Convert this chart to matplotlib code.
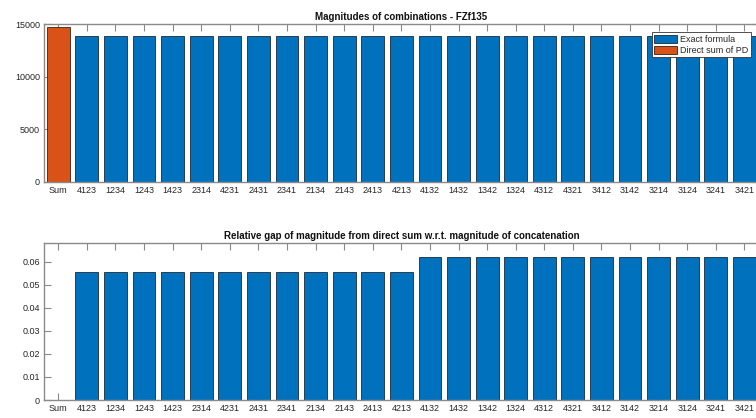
import matplotlib
matplotlib.use("Agg")
import matplotlib.pyplot as plt
import numpy as np

plt.rcParams['font.family'] = ['Liberation Sans', 'DejaVu Sans']

categories = ["Sum", "4123", "1234", "1243", "1423", "2314", "4231", "2431", "2341",
              "2134", "2143", "2413", "4213", "4132", "1432", "1342", "1324", "4312",
              "4321", "3412", "3142", "3214", "3124", "3241", "3421"]

direct_sum = 14710
exact_formula = [13930] * 12 + [13850] * 5 + [13845] * 7
rel_gap = [0.0554] * 12 + [0.0619] * 5 + [0.0621] * 7

blue = '#0072BD'
orange = '#D95319'
axcol = '#8a8a8a'
txtcol = '#262626'

fig = plt.figure(figsize=(7.56, 4.18), dpi=100)
W, H = 756, 418

def pos(left, right, top, bottom):
    return [left / W, 1 - bottom / H, (right - left) / W, (bottom - top) / H]

ax1 = fig.add_axes(pos(44, 758.7, 24.3, 181.7))
ax2 = fig.add_axes(pos(44, 758.7, 242.7, 400))

x = np.arange(1, len(categories) + 1)

def style(ax):
    ax.set_xlim(0.5, len(categories) + 0.5)
    ax.set_xticks(x)
    ax.set_xticklabels(categories)
    for s in ax.spines.values():
        s.set_color(axcol)
        s.set_linewidth(1.0)
    ax.tick_params(axis='both', direction='in', length=5, width=0.8, color=axcol,
                   labelsize=6.5, labelcolor=txtcol, top=True, right=True, pad=3)

b1 = ax1.bar(x[1:], exact_formula, width=0.8, color=blue, edgecolor='#1a2a3a',
             linewidth=0.6, label='Exact formula', zorder=2)
b2 = ax1.bar(x[:1], [direct_sum], width=0.8, color=orange, edgecolor='#3a2010',
             linewidth=0.6, label='Direct sum of PD', zorder=2)
style(ax1)
ax1.set_ylim(0, 15000)
ax1.set_yticks([0, 5000, 10000, 15000])
ax1.set_title('Magnitudes of combinations - FZf135', fontsize=7, fontweight='bold',
              color='#111111', pad=3)
leg = ax1.legend(handles=[b1, b2], loc='upper right', fontsize=6.5, frameon=True,
                 fancybox=False, edgecolor='#333333', framealpha=1,
                 borderpad=0.25, handlelength=2.6, handleheight=1.0,
                 handletextpad=0.3, labelspacing=0.2, borderaxespad=0.9)
leg.get_frame().set_linewidth(0.6)
for t in leg.get_texts():
    t.set_color(txtcol)

ax2.bar(x, [0] + rel_gap, width=0.8, color=blue, edgecolor='#1a2a3a',
        linewidth=0.6, zorder=2)
style(ax2)
ax2.set_ylim(0, 0.0683)
ax2.set_yticks([0, 0.01, 0.02, 0.03, 0.04, 0.05, 0.06])
ax2.set_yticklabels(['0', '0.01', '0.02', '0.03', '0.04', '0.05', '0.06'])
ax2.set_title('Relative gap of magnitude from direct sum w.r.t. magnitude of concatenation',
              fontsize=7, fontweight='bold', color='#111111', pad=3)

fig.savefig('out.png', dpi=100)
